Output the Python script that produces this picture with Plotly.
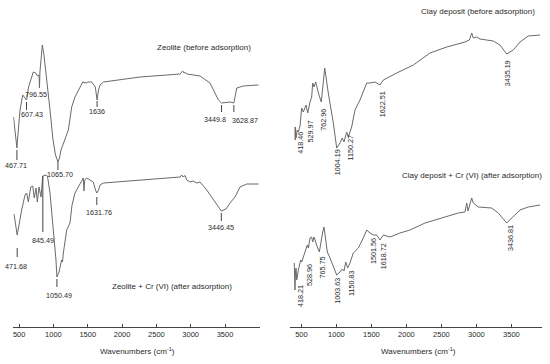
import plotly.graph_objects as go

# ---------------- data (wavenumber in cm-1, transmittance in arbitrary units) ----------------
# Zeolite (before adsorption)
zb_wn = [418, 430, 450, 467.71, 480, 513, 552, 578, 607.43, 615, 634, 669, 707, 742, 768, 790, 796.55, 803,
         838, 862, 906, 950, 994, 1030, 1065.70, 1088, 1110, 1144, 1183, 1217, 1234, 1266, 1314, 1362, 1427,
         1475, 1504, 1558, 1610, 1636, 1657, 1679, 1727, 2262, 2845, 2884, 2903, 2918, 2947, 3136, 3281, 3354,
         3403, 3449.8, 3525, 3575, 3628.87, 3671, 3720, 3767, 3865, 3986]
zb_t = [210, 203, 190, 179, 190, 217, 232, 229, 227, 229, 239, 247, 255, 254, 251, 252, 239, 255,
        282, 272, 247, 217, 187, 172, 165, 169, 177, 184, 191, 197, 205, 220, 230, 237, 245,
        244, 245, 245, 240, 227, 237, 242, 245, 250, 253, 256, 254, 254.5, 253, 251, 244, 234,
        227, 224, 225, 225, 224, 239, 240, 241, 241.5, 242]

# Zeolite + Cr (VI) (after adsorption)
za_wn = [425, 455, 471.68, 537, 586, 610, 634, 669, 698, 721, 746, 765, 790, 819, 844, 892, 913, 950, 998,
         1037, 1050.49, 1081, 1120, 1132, 1144, 1193, 1241, 1266, 1271, 1314, 1387, 1435, 1445, 1456, 1485,
         1533, 1581, 1613, 1631.76, 1657, 1679, 1727, 2262, 2845, 2870, 2889, 2918, 2943, 2991, 3035, 3088,
         3136, 3234, 3331, 3399, 3446.45, 3515, 3573, 3646, 3690, 3719, 3817, 3990]
za_t = [113, 102, 92, 117, 132, 134, 125, 140, 141, 129, 139, 125, 140, 130, 151, 152, 151, 134, 100,
        67, 50, 55, 67, 65, 74, 97, 104, 115, 122, 134, 144, 149, 136, 147, 149,
        147, 145, 137, 134, 137, 142, 144, 147, 150, 152, 150, 151.5, 147, 145, 146, 144,
        145, 137, 127, 120, 116, 118, 124, 130, 137, 140, 143, 143]

# Clay deposit (before adsorption)
cb_wn = [408, 412, 416, 423, 441, 456, 480, 504, 527, 566, 590, 623, 647, 661, 680, 704, 727, 751, 784,
         833, 884, 956, 1004, 1051, 1084, 1108, 1147, 1170, 1218, 1266, 1337, 1433, 1480, 1551, 1623, 1670,
         1861, 2099, 2337, 2576, 2837, 2900, 2933, 2956, 3004, 3051, 3241, 3337, 3433, 3527, 3623, 3741, 3909]
cb_t = [200, 187, 200, 189, 197, 195, 201, 219, 215, 222, 214, 225, 230, 244, 240, 245, 237, 232, 225,
        259, 234, 204, 179, 184, 189, 185, 195, 190, 200, 217, 227, 244, 244, 245, 242, 247,
        254, 262, 274, 280, 285, 287, 294, 289, 290, 288, 286, 282, 273, 277, 285, 291, 292]

# Clay deposit + Cr (VI) (after adsorption)
ca_wn = [398, 403, 408, 415, 423, 433, 456, 490, 504, 537, 566, 584, 599, 623, 647, 661, 680, 704, 727,
         756, 776, 804, 823, 847, 870, 909, 956, 1004, 1051, 1084, 1108, 1133, 1161, 1194, 1241, 1313, 1384,
         1433, 1480, 1527, 1576, 1623, 1670, 1766, 1908, 2051, 2266, 2504, 2741, 2837, 2861, 2880, 2933,
         2956, 3027, 3218, 3313, 3433, 3527, 3623, 3741, 3909]
ca_t = [64, 40, 37, 55, 59, 47, 57, 67, 65, 72, 79, 82, 79, 89, 90, 85, 90, 84, 80,
        75, 84, 95, 100, 87, 75, 69, 60, 52, 55, 58, 56, 65, 59, 64, 74, 79, 89,
        97, 94, 92, 92, 87, 92, 90, 94, 97, 104, 109, 114, 115, 124, 116, 129,
        124, 120, 119, 114, 104, 110, 117, 120, 122]

# peak labels
zb_peaks = [467.71, 607.43, 796.55, 1065.70, 1636, 3449.8, 3628.87]
zb_peak_text = ["467.71", "607.43", "796.55", "1065.70", "1636", "3449.8", "3628.87"]
za_peaks = [471.68, 845.49, 1050.49, 1631.76, 3446.45]
za_peak_text = ["471.68", "845.49", "1050.49", "1631.76", "3446.45"]
cb_peaks = [418.46, 529.97, 762.96, 1004.19, 1150.27, 1622.51, 3435.19]
cb_peak_text = ["418.46", "529.97", "762.96", "1004.19", "1150.27", "1622.51", "3435.19"]
ca_peaks = [418.21, 528.96, 765.75, 1003.63, 1150.83, 1501.56, 1618.72, 3436.81]
ca_peak_text = ["418.21", "528.96", "765.75", "1003.63", "1150.83", "1501.56", "1618.72", "3436.81"]

tick_vals = [500, 1000, 1500, 2000, 2500, 3000, 3500]
tick_text = ["500", "1000", "1500", "2000", "2500", "3000", "3500"]

# ---------------- label placement (layout only) ----------------
# (text_y, xshift_px, tick_top, tick_bottom) ; tick None -> no tick line
zb_pos = [(161.3, -1, 177, 167), (212.7, 5, 225, 217), (232.7, -3.5, None, None), (153, 2, 165, 157),
          (216, 0, 226, 220), (208, -6.5, 222, 215), (206.3, 11, 222, 215)]
za_pos = [(61, -1, 79, 70), (87, 0, 151, 95), (32, 2, 48, 40), (114.7, 2.5, 130, 122), (99.3, 0, 114, 106)]
cb_pos = [(184, 4), (195, 6), (207, 3), (165, 0.5), (179, 3.5), (223, 2.3), (253.5, 1)]
ca_pos = [(31, 4.3), (52, 5.6), (59, 1.5), (36, 0), (44, 4), (76, 1.5), (71, 3.6), (89, 3)]

W, H = 550, 364
BASE = 327             # pixel row of the x axis line


def px_x(px):
    return px / W


def px_y(py):
    return 1 - py / H


LINE = "#6a6a6a"
TXT = "#2a2a2a"
FONT = "Liberation Sans, Arial, sans-serif"

fig = go.Figure()
for wn, t, xa, ya in [(zb_wn, zb_t, "x", "y"), (za_wn, za_t, "x", "y"),
                      (cb_wn, cb_t, "x2", "y2"), (ca_wn, ca_t, "x2", "y2")]:
    fig.add_trace(go.Scatter(x=wn, y=t, mode="lines", xaxis=xa, yaxis=ya,
                             line=dict(color=LINE, width=1), hoverinfo="skip", showlegend=False))

annotations = []
shapes = []
for peaks, texts, pos in [(zb_peaks, zb_peak_text, zb_pos), (za_peaks, za_peak_text, za_pos)]:
    for p, tx, (ty, dx, t0, t1) in zip(peaks, texts, pos):
        annotations.append(dict(x=p, y=ty, xref="x", yref="y", text=tx, showarrow=False, xshift=dx,
                                xanchor="center", yanchor="middle",
                                font=dict(size=7.2, color=TXT, family=FONT)))
        if t0 is not None:
            shapes.append(dict(type="line", xref="x", yref="y", x0=p, x1=p, y0=t0, y1=t1,
                               line=dict(color="#444", width=1)))
for peaks, texts, pos in [(cb_peaks, cb_peak_text, cb_pos), (ca_peaks, ca_peak_text, ca_pos)]:
    for p, tx, (ty, dx) in zip(peaks, texts, pos):
        annotations.append(dict(x=p, y=ty, xref="x2", yref="y2", text=tx, showarrow=False, xshift=dx,
                                xanchor="center", yanchor="middle", textangle=-90,
                                font=dict(size=7.2, color=TXT, family=FONT)))

titles = [("Zeolite (before adsorption)", 204, 47.7),
          ("Zeolite + Cr (VI) (after adsorption)", 171.7, 286.7),
          ("Clay deposit (before adsorption)", 478.3, 11),
          ("Clay deposit + Cr (VI) (after adsorption)", 471.7, 175.7),
          ("Wavenumbers (cm<sup>-1</sup>)", 137, 350.5),
          ("Wavenumbers (cm<sup>-1</sup>)", 418, 350.5)]
for tx, px, py in titles:
    annotations.append(dict(x=px_x(px), y=px_y(py), xref="paper", yref="paper", text=tx,
                            xanchor="center", yanchor="middle",
                            showarrow=False, font=dict(size=8, color=TXT, family=FONT)))

xcommon = dict(showline=True, linecolor="#444", linewidth=1, ticks="inside", ticklen=3, tickcolor="#444",
               tickvals=tick_vals, ticktext=tick_text, showgrid=False, zeroline=False, automargin=False,
               tickfont=dict(size=7.5, color=TXT, family=FONT))
ycommon = dict(visible=False, range=[0, BASE], domain=[px_y(BASE), 1], showgrid=False, zeroline=False,
               automargin=False)

fig.update_layout(
    width=W, height=H, margin=dict(l=0, r=0, t=0, b=0, autoexpand=False),
    paper_bgcolor="white", plot_bgcolor="white", showlegend=False,
    xaxis=dict(domain=[px_x(13.3), px_x(260)], range=[415, 4010], anchor="y", **xcommon),
    xaxis2=dict(domain=[px_x(290), px_x(541.7)], range=[337, 3933], anchor="y2", **xcommon),
    yaxis=dict(anchor="x", **ycommon),
    yaxis2=dict(anchor="x2", **ycommon),
    annotations=annotations, shapes=shapes,
)

fig.write_html("out.html", config={"displayModeBar": False, "staticPlot": True},
               post_script="document.body.style.margin='0';document.body.style.overflow='hidden';")
